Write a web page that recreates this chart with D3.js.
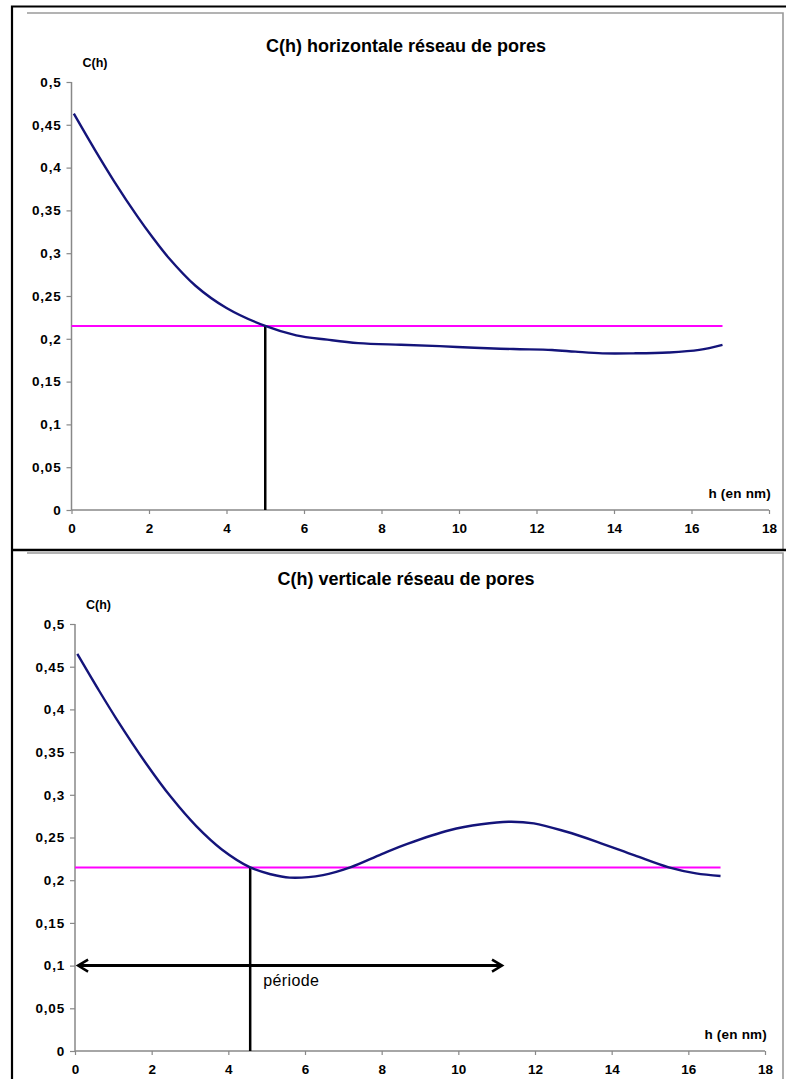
<!DOCTYPE html>
<html>
<head>
<meta charset="utf-8">
<script src="https://cdn.jsdelivr.net/npm/d3@7"></script>
<style>
  html, body { margin: 0; padding: 0; background: #fff; }
  svg { display: block; font-family: "Liberation Sans", Arial, sans-serif; }
</style>
</head>
<body>
<svg id="chart" width="786" height="1079"></svg>
<script>
// ---- Data ----
const titles = ["C(h) horizontale réseau de pores", "C(h) verticale réseau de pores"];
const yLabel = "C(h)";
const xLabel = "h (en nm)";
const xTicks = [0, 2, 4, 6, 8, 10, 12, 14, 16, 18];
const yTicks = [0, 0.05, 0.1, 0.15, 0.2, 0.25, 0.3, 0.35, 0.4, 0.45, 0.5];

const hTop = [0.06, 0.6, 1.1, 1.7, 2.1, 2.5, 3.2, 4.0, 5.0, 5.8, 6.6, 7.4, 8.5, 9.5, 10.4, 11.4, 12.4, 13.0, 13.7, 14.5, 15.4, 16.2, 16.8];
const cTop = [0.463, 0.421, 0.384, 0.343, 0.318, 0.295, 0.262, 0.236, 0.215, 0.204, 0.199, 0.195, 0.193, 0.1915, 0.1895, 0.188, 0.187, 0.185, 0.183, 0.183, 0.184, 0.187, 0.193];

const hBottom = [0.06, 0.6, 1.08, 1.85, 2.51, 3.17, 3.83, 4.57, 5.1, 5.6, 6.47, 7.18, 8.0, 8.67, 9.77, 10.6, 11.31, 11.97, 12.8, 13.62, 14.6, 15.49, 16.2, 16.84];
const cBottom = [0.465, 0.424, 0.389, 0.337, 0.297, 0.263, 0.236, 0.215, 0.207, 0.203, 0.206, 0.215, 0.2305, 0.2425, 0.2585, 0.2655, 0.2685, 0.2666, 0.257, 0.245, 0.229, 0.215, 0.208, 0.205];

const thresholdC = [0.215, 0.215];      // horizontal magenta line value
const thresholdEndH = [16.8, 16.84];    // end of magenta line
const crossingH = [5.0, 4.57];          // vertical black marker
const periodStartH = [0.08];
const periodEndH = [11.14];
const periodC = [0.1];
const periodLabel = "période";

// ---- Layout ----
const panels = [
  { title: titles[0], h: hTop, c: cTop, x0: 71.5, x1: 769, yBot: 510, yTop: 82, titleY: 52, frameTop: 13, frameBot: 550 },
  { title: titles[1], h: hBottom, c: cBottom, x0: 75, x1: 765, yBot: 1051, yTop: 624, titleY: 585, frameTop: 553, frameBot: 1079 }
];

const svg = d3.select("#chart");

panels.forEach((p, i) => {
  const x = d3.scaleLinear().domain([0, 18]).range([p.x0, p.x1]);
  const y = d3.scaleLinear().domain([0, 0.5]).range([p.yBot, p.yTop]);
  const g = svg.append("g");

  // grey inner frame (top + right)
  g.append("path")
    .attr("d", `M27,${p.frameTop} H783 V${p.frameBot}`)
    .attr("fill", "none").attr("stroke", "#9a9a9a").attr("stroke-width", 1.6);

  // title
  g.append("text").attr("x", 406).attr("y", p.titleY)
    .attr("text-anchor", "middle").attr("font-size", 18).attr("font-weight", "bold")
    .attr("fill", "#000").text(p.title);

  // y axis
  const yAxis = g.append("g").attr("transform", `translate(${p.x0},0)`)
    .call(d3.axisLeft(y).tickValues(yTicks).tickSize(5).tickPadding(5)
      .tickFormat(d => String(d).replace(".", ",")));
  // x axis
  const xAxis = g.append("g").attr("transform", `translate(0,${p.yBot})`)
    .call(d3.axisBottom(x).tickValues(xTicks).tickSize(4).tickPadding(9)
      .tickFormat(d => String(d)));
  [yAxis, xAxis].forEach(a => {
    a.select(".domain").attr("stroke", "#888").attr("stroke-width", 1.5);
    a.selectAll(".tick line").attr("stroke", "#888").attr("stroke-width", 1.2);
    a.selectAll("text").attr("font-size", 13.5).attr("font-weight", "bold")
      .attr("fill", "#000").attr("font-family", "'Liberation Sans', Arial, sans-serif");
  });
  yAxis.selectAll("text").attr("letter-spacing", 0.8);
  xAxis.select(".domain").attr("d", `M${p.x0},0H${p.x1}`);
  yAxis.select(".domain").attr("d", `M0,${p.yBot}V${p.yTop}`);

  // axis labels
  g.append("text").attr("x", p.x0 + 11).attr("y", p.yTop - 15)
    .attr("font-size", 12.5).attr("font-weight", "bold").text(yLabel);
  g.append("text").attr("x", p.x1 + 2).attr("y", p.yBot - 12)
    .attr("text-anchor", "end").attr("font-size", 13.5).attr("font-weight", "bold")
    .attr("letter-spacing", 0.2).text(xLabel);

  // magenta threshold line
  g.append("line")
    .attr("x1", x(0)).attr("x2", x(thresholdEndH[i]))
    .attr("y1", y(thresholdC[i])).attr("y2", y(thresholdC[i]))
    .attr("stroke", "#ff00ff").attr("stroke-width", 2);

  // vertical marker
  g.append("line")
    .attr("x1", x(crossingH[i])).attr("x2", x(crossingH[i]))
    .attr("y1", y(0)).attr("y2", y(thresholdC[i]))
    .attr("stroke", "#000").attr("stroke-width", 2.5);

  // curve
  const pts = p.h.map((hv, k) => [hv, p.c[k]]);
  g.append("path").datum(pts)
    .attr("d", d3.line().x(d => x(d[0])).y(d => y(d[1])).curve(d3.curveCatmullRom.alpha(0.5)))
    .attr("fill", "none").attr("stroke", "#14147a").attr("stroke-width", 2.4);

  // period arrow on second panel
  if (i === 1) {
    const ay = y(periodC[0]);
    const ax0 = x(periodStartH[0]), ax1 = x(periodEndH[0]);
    g.append("line").attr("x1", ax0).attr("x2", ax1).attr("y1", ay).attr("y2", ay)
      .attr("stroke", "#000").attr("stroke-width", 3);
    g.append("path").attr("d", `M${ax0 + 10},${ay - 6} L${ax0},${ay} L${ax0 + 10},${ay + 6}`)
      .attr("fill", "none").attr("stroke", "#000").attr("stroke-width", 2.5);
    g.append("path").attr("d", `M${ax1 - 10},${ay - 6} L${ax1},${ay} L${ax1 - 10},${ay + 6}`)
      .attr("fill", "none").attr("stroke", "#000").attr("stroke-width", 2.5);
    g.append("text").attr("x", x(crossingH[1]) + 13).attr("y", ay + 20)
      .attr("font-size", 16).attr("letter-spacing", 0.4).attr("fill", "#000").text(periodLabel);
  }
});

// outer black frame lines
svg.append("path").attr("d", "M12,1079 V6.5 H786")
  .attr("fill", "none").attr("stroke", "#000").attr("stroke-width", 2.2);
svg.append("line").attr("x1", 12).attr("x2", 786).attr("y1", 550).attr("y2", 550)
  .attr("stroke", "#000").attr("stroke-width", 2.6);
</script>
</body>
</html>
